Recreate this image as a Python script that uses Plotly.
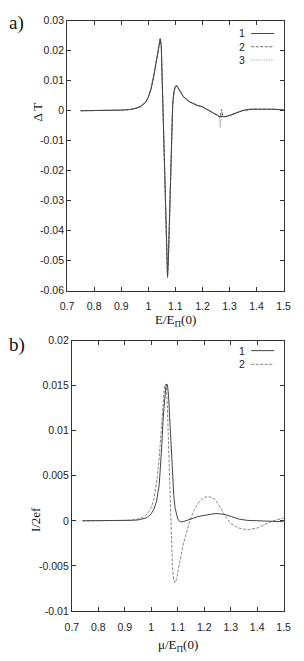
import plotly.graph_objects as go

# ---------- panel a) : Delta T vs E/E_Pi(0) ----------
xa = [0.75, 0.80, 0.85, 0.90, 0.93, 0.95, 0.97, 0.99, 1.00, 1.01, 1.02, 1.03, 1.035,
      1.04, 1.044, 1.048, 1.052, 1.056, 1.060, 1.064, 1.068, 1.071, 1.074, 1.078,
      1.082, 1.086, 1.090, 1.095, 1.100, 1.105, 1.110, 1.120, 1.130, 1.150, 1.165,
      1.180, 1.200, 1.215, 1.230, 1.245, 1.255, 1.262, 1.266, 1.270, 1.275, 1.283,
      1.300, 1.324, 1.350, 1.380, 1.420, 1.460, 1.500]
dT1 = [0.0, 0.00003, 0.00008, 0.0002, 0.0004, 0.0007, 0.0013, 0.0028, 0.0045, 0.0072,
       0.0115, 0.0170, 0.0203, 0.0228, 0.0239, 0.0215, 0.0080, -0.0080, -0.0250,
       -0.0400, -0.0515, -0.0552, -0.0500, -0.0350, -0.0180, -0.0050, 0.0020, 0.0065,
       0.0082, 0.0084, 0.0076, 0.0060, 0.0047, 0.0031, 0.0024, 0.0018, 0.0013, 0.0006,
       -0.0003, -0.0010, -0.0015, -0.0019, -0.0019, -0.0018, -0.0019, -0.0020,
       -0.0016, -0.0007, 0.0001, 0.0005, 0.0006, 0.0005, 0.0003]
dT2 = [0.0, 0.00003, 0.00008, 0.0002, 0.0004, 0.0007, 0.0013, 0.0028, 0.0045, 0.0072,
       0.0115, 0.0170, 0.0204, 0.0229, 0.0240, 0.0216, 0.0081, -0.0080, -0.0252,
       -0.0402, -0.0518, -0.0555, -0.0502, -0.0352, -0.0181, -0.0050, 0.0020, 0.0065,
       0.0081, 0.0083, 0.0075, 0.0059, 0.0046, 0.0031, 0.0024, 0.0018, 0.0013, 0.0006,
       -0.0003, -0.0010, -0.0015, -0.0019, -0.0022, 0.0004, -0.0016, -0.0020,
       -0.0016, -0.0007, 0.0001, 0.0005, 0.0006, 0.0005, 0.0003]
dT3 = [0.0, 0.00003, 0.00008, 0.0002, 0.0004, 0.0007, 0.0013, 0.0028, 0.0045, 0.0072,
       0.0116, 0.0171, 0.0205, 0.0230, 0.0241, 0.0217, 0.0082, -0.0080, -0.0253,
       -0.0404, -0.0520, -0.0558, -0.0504, -0.0354, -0.0182, -0.0051, 0.0019, 0.0063,
       0.0079, 0.0081, 0.0074, 0.0058, 0.0046, 0.0031, 0.0024, 0.0018, 0.0013, 0.0006,
       -0.0003, -0.0010, -0.0015, -0.0019, -0.0056, -0.0010, -0.0018, -0.0020,
       -0.0016, -0.0007, 0.0001, 0.0005, 0.0006, 0.0005, 0.0003]

# ---------- panel b) : I/2ef vs mu/E_Pi(0) ----------
xb = [0.74, 0.80, 0.85, 0.90, 0.93, 0.95, 0.97, 0.98, 0.99, 1.00, 1.01, 1.02, 1.03,
      1.035, 1.04, 1.045, 1.050, 1.055, 1.058, 1.061, 1.065, 1.070, 1.075, 1.080,
      1.085, 1.090, 1.095, 1.100, 1.105, 1.110, 1.120, 1.130, 1.146, 1.160, 1.180,
      1.200, 1.218, 1.240, 1.254, 1.278, 1.300, 1.330, 1.362, 1.400, 1.430, 1.460,
      1.500]
cur1 = [0.0, 0.0, 0.00001, 0.00003, 0.00006, 0.0001, 0.0002, 0.0003, 0.0005, 0.0008,
        0.0013, 0.0022, 0.0040, 0.0058, 0.0085, 0.0115, 0.0138, 0.0149, 0.0152,
        0.0151, 0.0140, 0.0112, 0.0080, 0.0050, 0.0028, 0.0014, 0.0006, 0.0002,
        0.0000, -0.0001, -0.0001, 0.0000, 0.0001, 0.0003, 0.0005, 0.0006, 0.0007,
        0.0008, 0.0008, 0.0007, 0.0005, 0.0002, 0.00005, 0.0, -0.00005, -0.00005,
        -0.0001]
cur2 = [0.0, 0.0, 0.00001, 0.00004, 0.0001, 0.0002, 0.0004, 0.0006, 0.0010, 0.0015,
        0.0025, 0.0042, 0.0070, 0.0092, 0.0118, 0.0140, 0.0151, 0.0152, 0.0145,
        0.0125, 0.0085, 0.0030, -0.0020, -0.0052, -0.0066, -0.0069, -0.0065,
        -0.0057, -0.0048, -0.0040, -0.0027, -0.0016, 0.0000, 0.0011, 0.0021,
        0.0026, 0.0027, 0.0024, 0.0018, 0.0006, -0.0003, -0.0008, -0.0010, -0.0008,
        -0.0004, 0.0000, 0.0003]

x_ticks = [0.7, 0.8, 0.9, 1.0, 1.1, 1.2, 1.3, 1.4, 1.5]
x_tick_text = ["0.7", "0.8", "0.9", "1", "1.1", "1.2", "1.3", "1.4", "1.5"]
ya_ticks = [0.03, 0.02, 0.01, 0, -0.01, -0.02, -0.03, -0.04, -0.05, -0.06]
ya_text = ["0.03", "0.02", "0.01", "0", "-0.01", "-0.02", "-0.03", "-0.04", "-0.05", "-0.06"]
yb_ticks = [0.02, 0.015, 0.01, 0.005, 0, -0.005, -0.01]
yb_text = ["0.02", "0.015", "0.01", "0.005", "0", "-0.005", "-0.01"]

W, H = 304, 661
TICKFONT = dict(family="Liberation Sans Narrow, Liberation Sans, Arial", size=10.5, color="#222")
SERIF = "Liberation Serif, Times New Roman, serif"

fig = go.Figure()
sty1 = dict(color="#444", width=1)
sty2 = dict(color="#666", width=1, dash="3px,1.5px")
sty3 = dict(color="#b0b0b0", width=1.2, dash="1.5px,1px")
styb2 = dict(color="#888", width=1, dash="3px,1.5px")

fig.add_trace(go.Scatter(x=xa, y=dT3, mode="lines", line=sty3, xaxis="x", yaxis="y", showlegend=False))
fig.add_trace(go.Scatter(x=xa, y=dT2, mode="lines", line=sty2, xaxis="x", yaxis="y", showlegend=False))
fig.add_trace(go.Scatter(x=xa, y=dT1, mode="lines", line=sty1, xaxis="x", yaxis="y", showlegend=False))
fig.add_trace(go.Scatter(x=xb, y=cur2, mode="lines", line=styb2, xaxis="x2", yaxis="y2", showlegend=False))
fig.add_trace(go.Scatter(x=xb, y=cur1, mode="lines", line=sty1, xaxis="x2", yaxis="y2", showlegend=False))


def px_x(p):
    return p / W


def px_y(p):
    return 1 - p / H


axcommon = dict(showgrid=False, zeroline=False, showline=True, linecolor="#333", linewidth=1,
                mirror="ticks", ticks="inside", ticklen=4, tickcolor="#333",
                tickfont=TICKFONT)

fig.update_layout(
    width=W, height=H, margin=dict(l=0, r=0, t=0, b=0),
    paper_bgcolor="white", plot_bgcolor="white", showlegend=False,
    xaxis=dict(domain=[px_x(63), px_x(290)], anchor="y", range=[0.7, 1.5],
               tickvals=x_ticks, ticktext=x_tick_text, ticklabelstandoff=6, **axcommon),
    yaxis=dict(domain=[px_y(290), px_y(15)], anchor="x", range=[-0.06, 0.03],
               tickvals=ya_ticks, ticktext=ya_text, **axcommon),
    xaxis2=dict(domain=[px_x(68), px_x(290)], anchor="y2", range=[0.7, 1.5],
                tickvals=x_ticks, ticktext=x_tick_text, ticklabelstandoff=7, **axcommon),
    yaxis2=dict(domain=[px_y(616), px_y(341)], anchor="x2", range=[-0.01, 0.02],
                tickvals=yb_ticks, ticktext=yb_text, **axcommon),
)

ann = []
ann.append(dict(text="a)", x=0, y=px_y(4), xref="paper", yref="paper", xanchor="left", yanchor="top",
                showarrow=False, font=dict(family=SERIF, size=19, color="#111")))
ann.append(dict(text="b)", x=0, y=px_y(332), xref="paper", yref="paper", xanchor="left", yanchor="top",
                showarrow=False, font=dict(family=SERIF, size=19, color="#111")))
ann.append(dict(text="E/E<sub>\u03a0</sub>(0)", x=(px_x(63) + px_x(290)) / 2, y=px_y(310), xref="paper", yref="paper",
                xanchor="center", yanchor="top", showarrow=False, font=dict(family=SERIF, size=13, color="#111")))
ann.append(dict(text="\u03bc/E<sub>\u03a0</sub>(0)", x=(px_x(68) + px_x(290)) / 2, y=px_y(641), xref="paper", yref="paper",
                xanchor="center", yanchor="top", showarrow=False, font=dict(family=SERIF, size=13, color="#111")))
ann.append(dict(text="\u0394 T", x=px_x(32), y=px_y(108), xref="paper", yref="paper", textangle=-90,
                xanchor="center", yanchor="middle", showarrow=False, font=dict(family=SERIF, size=13, color="#111")))
ann.append(dict(text="I/2ef", x=px_x(30), y=px_y(523), xref="paper", yref="paper", textangle=-90,
                xanchor="center", yanchor="middle", showarrow=False, font=dict(family=SERIF, size=13, color="#111")))

shapes = []
leg_a = [("1", sty1), ("2", sty2), ("3", sty3)]
for i, (lab, st) in enumerate(leg_a):
    yy = 28 + 13.5 * i
    ann.append(dict(text=lab, x=px_x(252), y=px_y(yy), xref="paper", yref="paper", xanchor="right",
                    yanchor="middle", showarrow=False, font=TICKFONT))
    shapes.append(dict(type="line", xref="paper", yref="paper", x0=px_x(256), x1=px_x(280),
                       y0=px_y(yy), y1=px_y(yy), line=st))
leg_b = [("1", sty1), ("2", styb2)]
for i, (lab, st) in enumerate(leg_b):
    yy = 351 + 14 * i
    ann.append(dict(text=lab, x=px_x(252), y=px_y(yy), xref="paper", yref="paper", xanchor="right",
                    yanchor="middle", showarrow=False, font=TICKFONT))
    shapes.append(dict(type="line", xref="paper", yref="paper", x0=px_x(256), x1=px_x(280),
                       y0=px_y(yy), y1=px_y(yy), line=st))

fig.update_layout(annotations=ann, shapes=shapes)
fig.write_html("out.html", config={"displayModeBar": False},
               post_script="document.body.style.margin='0';document.body.style.overflow='hidden';")
